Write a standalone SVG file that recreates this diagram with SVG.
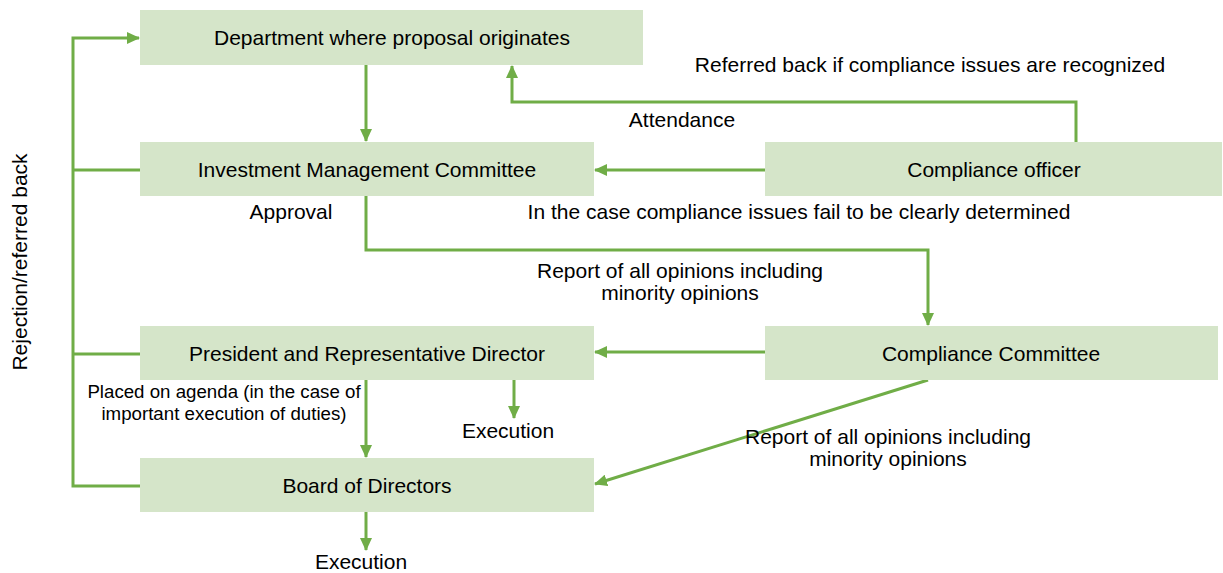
<svg xmlns="http://www.w3.org/2000/svg" width="1223" height="573" viewBox="0 0 1223 573">
<style>
.box{fill:#d5e5c9;}
.t{font-family:"Liberation Sans",Arial,sans-serif;font-size:21px;fill:#000;text-anchor:middle;}
.l{font-family:"Liberation Sans",Arial,sans-serif;font-size:21px;fill:#000;text-anchor:middle;}
.s{font-family:"Liberation Sans",Arial,sans-serif;font-size:18.7px;fill:#000;text-anchor:middle;}
.c{fill:none;stroke:#70ad47;stroke-width:3;}
</style>
<defs>
<marker id="ah" markerWidth="13" markerHeight="12" refX="12" refY="6" orient="auto" markerUnits="userSpaceOnUse">
<path d="M0,0 L13,6 L0,12 Z" fill="#70ad47"/>
</marker>
</defs>
<rect width="1223" height="573" fill="#fff"/>
<g id="connectors">
<path class="c" d="M366,65 V141" marker-end="url(#ah)"/>
<path class="c" d="M765,170 H595" marker-end="url(#ah)"/>
<path class="c" d="M1076,142 V102 H512 V66" marker-end="url(#ah)"/>
<path class="c" d="M366,196 V250 H928 V325" marker-end="url(#ah)"/>
<path class="c" d="M765,352 H595" marker-end="url(#ah)"/>
<path class="c" d="M928,380 L595,484" marker-end="url(#ah)"/>
<path class="c" d="M366,380 V457" marker-end="url(#ah)"/>
<path class="c" d="M514,380 V418" marker-end="url(#ah)"/>
<path class="c" d="M366,512 V550" marker-end="url(#ah)"/>
<path class="c" d="M140,486 H73 V38 H139" marker-end="url(#ah)"/>
<path class="c" d="M140,170 H73"/>
<path class="c" d="M140,354 H73"/>
</g>
<g id="n-dept">
<rect class="box" x="140" y="10" width="503" height="55"/>
<text class="t" x="392" y="45">Department where proposal originates</text>
</g>
<g id="n-imc">
<rect class="box" x="140" y="142" width="454" height="54"/>
<text class="t" x="367" y="177">Investment Management Committee</text>
</g>
<g id="n-co">
<rect class="box" x="765" y="142" width="457" height="54"/>
<text class="t" x="994" y="177">Compliance officer</text>
</g>
<g id="n-cc">
<rect class="box" x="765" y="326" width="453" height="54"/>
<text class="t" x="991" y="361">Compliance Committee</text>
</g>
<g id="n-pres">
<rect class="box" x="140" y="326" width="454" height="54"/>
<text class="t" x="367" y="361">President and Representative Director</text>
</g>
<g id="n-board">
<rect class="box" x="140" y="458" width="454" height="54"/>
<text class="t" x="367" y="493">Board of Directors</text>
</g>
<g id="labels">
<text class="l" x="930" y="72">Referred back if compliance issues are recognized</text>
<text class="l" x="682" y="127">Attendance</text>
<text class="l" x="799" y="219">In the case compliance issues fail to be clearly determined</text>
<text class="l" x="291" y="219">Approval</text>
<text class="l" x="680" y="278">Report of all opinions including</text>
<text class="l" x="680" y="300">minority opinions</text>
<text class="l" x="888" y="444">Report of all opinions including</text>
<text class="l" x="888" y="466">minority opinions</text>
<text class="s" x="224" y="398">Placed on agenda (in the case of</text>
<text class="s" x="224" y="420">important execution of duties)</text>
<text class="l" x="508" y="438">Execution</text>
<text class="l" x="361" y="569">Execution</text>
<text class="l" transform="translate(27,262) rotate(-90)">Rejection/referred back</text>
</g>
</svg>
